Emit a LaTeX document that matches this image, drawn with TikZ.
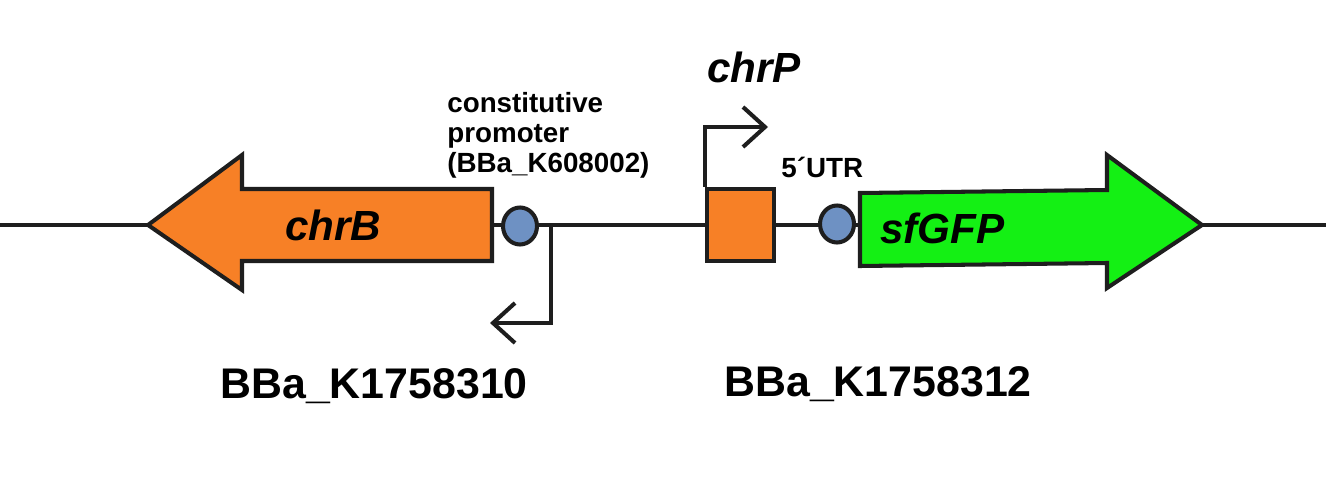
\documentclass[tikz,border=0pt]{standalone}
\usepackage{fontspec}
\setmainfont{Liberation Sans}
\usetikzlibrary{arrows.meta,shapes.geometric}
\definecolor{ink}{RGB}{30,30,30}
\definecolor{genorange}{RGB}{247,128,38}
\definecolor{gengreen}{RGB}{20,240,20}
\definecolor{rbsblue}{RGB}{110,145,195}
\begin{document}
\begin{tikzpicture}[x=0.02cm,y=-0.02cm,
  dna/.style={draw=ink,line width=2.3pt},
  gene/.style={draw=ink,line width=2.3pt,line join=miter},
  rbs/.style={ellipse,draw=ink,fill=rbsblue,line width=2.3pt,minimum width=0.68cm,minimum height=0.74cm,inner sep=0pt},
  bent/.style={draw=ink,line width=2.3pt,-{Straight Barb[length=0.44cm,width=0.8cm,line width=2.3pt]}},
  bigit/.style={font=\bfseries\itshape\fontsize{24}{28}\selectfont,anchor=base west,inner sep=0pt},
  bigbf/.style={font=\bfseries\fontsize{24.4}{28}\selectfont,anchor=base west,inner sep=0pt},
  small/.style={font=\bfseries\fontsize{15.8}{17}\selectfont,anchor=base west,inner sep=0pt,align=left}]
\useasboundingbox (0,0) rectangle (1326,490);
\fill[white] (0,0) rectangle (1326,490);
% backbone
\coordinate (L) at (0,225);
\coordinate (R) at (1326,225);
\draw[dna] (L) -- (R);
% chrB (reverse)
\path[gene,fill=genorange] (148,225) -- (242,155) -- (242,189) -- (492,189) -- (492,261) -- (242,261) -- (242,290) -- cycle;
\node[bigit] (chrB) at (285,240) {chrB};
% sfGFP (forward)
\path[gene,fill=gengreen] (860,193) -- (1107,190) -- (1107,155) -- (1202,225) -- (1107,288) -- (1107,263) -- (860,266) -- cycle;
\node[bigit] (sfGFP) at (880,243) {sfGFP};
% chrP box
\node[draw=ink,fill=genorange,line width=2.3pt,minimum width=1.34cm,minimum height=1.45cm,inner sep=0pt] (box) at (740.5,225) {};
% RBS circles
\node[rbs] (rbs1) at (520,226) {};
\node[rbs] (rbs2) at (837,224) {};
% promoter arrows
\coordinate (p1) at (551,225);
\coordinate (p1end) at (490,323);
\draw[bent] (p1) |- (p1end);
\coordinate (p2end) at (768,127);
\draw[bent] (box.north west) |- (p2end);
% labels
\node[bigit] (chrP) at (707,82) {chrP};
\node[small] (utr) at (781,177) {5´UTR};
\node[small] (const) at (447,112) {constitutive};
\node[small] (prom) at (447,142) {promoter};
\node[small] (bba) at (447,172) {(BBa\_K608002)};
\node[bigbf] (k310) at (220,398) {BBa\_K1758310};
\node[bigbf] (k312) at (724,396) {BBa\_K1758312};
\end{tikzpicture}
\end{document}
